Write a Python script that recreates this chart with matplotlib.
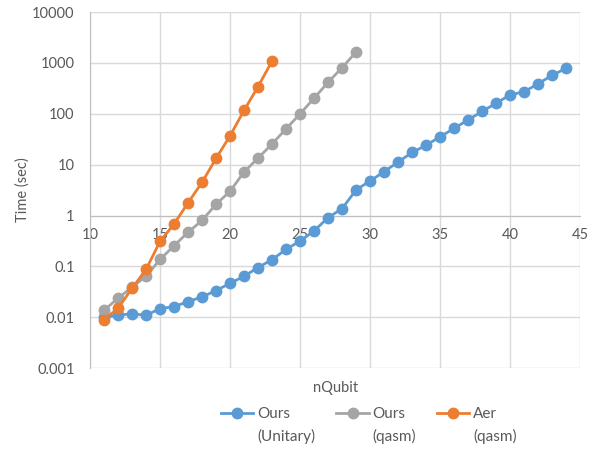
import numpy as np
import matplotlib
matplotlib.use("Agg")
import matplotlib.pyplot as plt
from matplotlib.ticker import FuncFormatter, FixedLocator
from matplotlib.legend_handler import HandlerLine2D

plt.rcParams['font.family'] = ['Lato', 'DejaVu Sans']

# data
nq_unitary = list(range(11, 45))
t_unitary = [0.0100, 0.0109, 0.0118, 0.0109, 0.0148, 0.0162, 0.0203, 0.0251, 0.0335, 0.0465,
             0.064, 0.095, 0.136, 0.216, 0.317, 0.50, 0.91, 1.37, 3.2, 4.8,
             7.3, 11.3, 17.4, 24.2, 35.4, 52, 76, 112, 162, 237,
             272, 392, 574, 787]

nq_qasm = list(range(11, 30))
t_qasm = [0.0137, 0.0236, 0.039, 0.064, 0.137, 0.255, 0.47, 0.80, 1.67, 3.0,
          7.2, 13.5, 25.6, 50.8, 100, 203, 418, 810, 1650]

nq_aer = list(range(11, 24))
t_aer = [0.0090, 0.015, 0.037, 0.087, 0.31, 0.68, 1.78, 4.5, 13.3, 37,
         117, 344, 1090]

labels = ["Ours\n(Unitary)", "Ours\n(qasm)", "Aer\n(qasm)"]
colors = ["#5B9BD5", "#A5A5A5", "#ED7D31"]


# legend handle sits on the first text line, like Excel does
class FirstLineHandler(HandlerLine2D):
    def create_artists(self, legend, orig_handle, xdescent, ydescent, width, height, fontsize, trans):
        return super().create_artists(legend, orig_handle, xdescent, ydescent - 18,
                                      width, height, fontsize, trans)


fig = plt.figure(figsize=(6, 4.5), dpi=100)
ax = fig.add_axes([0.15, 0.182, 0.817, 0.791])

series = [(nq_unitary, t_unitary), (nq_qasm, t_qasm), (nq_aer, t_aer)]
lines = []
for (x, y), lab, c in zip(series, labels, colors):
    ln, = ax.plot(x, y, color=c, lw=2.0, marker='o', ms=7.5, label=lab, zorder=3)
    lines.append(ln)

ax.set_yscale('log')
ax.set_ylim(0.001, 10000)
ax.set_xlim(10, 45)
ax.xaxis.set_major_locator(FixedLocator([10, 15, 20, 25, 30, 35, 40, 45]))
ax.yaxis.set_major_locator(FixedLocator([0.001, 0.01, 0.1, 1, 10, 100, 1000, 10000]))
ax.yaxis.set_minor_locator(FixedLocator([]))
ax.yaxis.set_major_formatter(FuncFormatter(lambda v, p: '%g' % v))

ax.grid(True, color='#D9D9D9', lw=1.0, zorder=0)
ax.set_axisbelow(True)
for s in ['top', 'right']:
    ax.spines[s].set_visible(False)
ax.spines['bottom'].set_position(('data', 1))
ax.spines['bottom'].set_color('#BFBFBF')
ax.spines['left'].set_color('#BFBFBF')
ax.tick_params(length=0, labelsize=10.5, colors='#595959')
ax.tick_params(axis='x', pad=9)
ax.tick_params(axis='y', pad=11)

ax.set_xlabel('nQubit', fontsize=10.5, color='#595959')
ax.xaxis.set_label_coords(0.5, -0.035)
ax.set_ylabel('Time (sec)', fontsize=10.5, color='#595959', labelpad=2)

leg = fig.legend(handles=lines, loc='lower center', bbox_to_anchor=(0.615, -0.017), ncol=3,
                 frameon=False, fontsize=11, labelcolor='#595959', handlelength=2.1,
                 columnspacing=1.4, handletextpad=0.25,
                 handler_map={ln: FirstLineHandler() for ln in lines})
for t in leg.get_texts():
    t.set_multialignment('left')
    t.set_linespacing(1.65)

fig.savefig('out.png', dpi=100)
